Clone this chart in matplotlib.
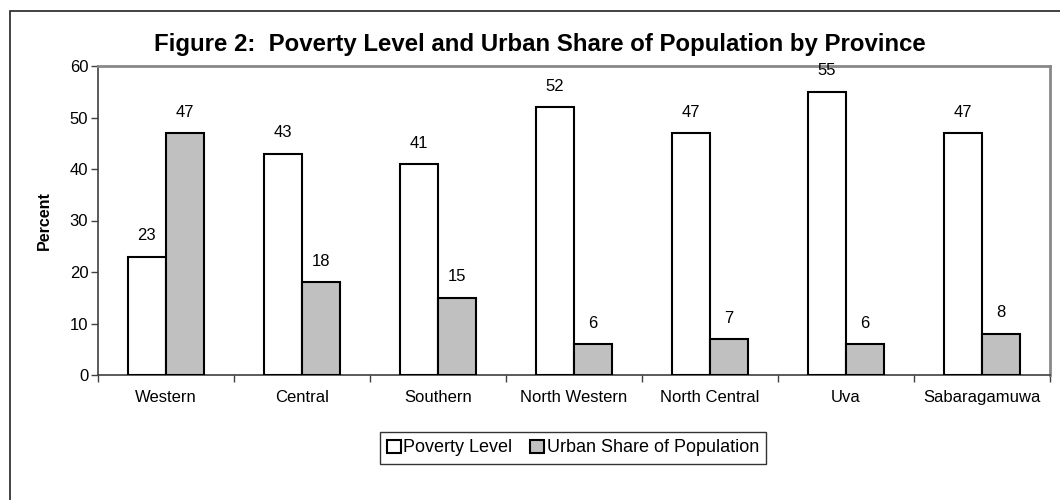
import matplotlib
matplotlib.use("Agg")
import matplotlib.pyplot as plt
from matplotlib.patches import Rectangle
import numpy as np

plt.rcParams['font.family'] = ['Liberation Sans', 'DejaVu Sans']

provinces = ["Western", "Central", "Southern", "North Western", "North Central", "Uva", "Sabaragamuwa"]
poverty = [23, 43, 41, 52, 47, 55, 47]
urban = [47, 18, 15, 6, 7, 6, 8]
series_names = ["Poverty Level", "Urban Share of Population"]
title = "Figure 2:  Poverty Level and Urban Share of Population by Province"

fig = plt.figure(figsize=(10.6, 5), dpi=100)
W, H = 1060, 500
ax = fig.add_axes([98 / W, 1 - 375 / H, (1050 - 98) / W, (375 - 66) / H])

# outer frame
fig.patches.append(Rectangle((10 / W, -0.1), 1.2, 1 - 11 / H + 0.1, transform=fig.transFigure,
                             fill=False, edgecolor="#222222", linewidth=1.2, zorder=0))

x = np.arange(len(provinces))
bw = 0.283
b1 = ax.bar(x - bw / 2, poverty, bw, color="white", edgecolor="black", linewidth=1.5,
            label=series_names[0], zorder=3)
b2 = ax.bar(x + bw / 2, urban, bw, color="#c0c0c0", edgecolor="black", linewidth=1.5,
            label=series_names[1], zorder=3)

for bars, vals in ((b1, poverty), (b2, urban)):
    for rect, v in zip(bars, vals):
        ax.annotate(f"{v}", (rect.get_x() + rect.get_width() / 2, v), xytext=(0, 15),
                    textcoords="offset points", ha="center", va="center", fontsize=12)

ax.set_xlim(-0.5, len(provinces) - 0.5)
ax.set_ylim(0, 60)
ax.set_yticks(range(0, 61, 10))
ax.tick_params(axis="y", labelsize=12, length=5, width=1, color="#404040", direction="out", pad=2)
ax.set_xticks(x)
ax.set_xticklabels(provinces, fontsize=12)
ax.tick_params(axis="x", length=0, pad=11)
ax.set_xticks(np.arange(-0.5, len(provinces), 1), minor=True)
ax.tick_params(axis="x", which="minor", length=5, width=1, color="#404040", direction="out")

for s in ("left", "bottom"):
    ax.spines[s].set_color("#404040")
    ax.spines[s].set_linewidth(1.2)
for s in ("top", "right"):
    ax.spines[s].set_color("#888888")
    ax.spines[s].set_linewidth(2)

ax.set_ylabel("Percent", fontsize=11.5, fontweight="bold", labelpad=13)

fig.text(540 / W, 1 - 44 / H, title, ha="center", va="center", fontsize=17.3, fontweight="bold")

leg = fig.legend(handles=[b1, b2], labels=series_names, loc="center", bbox_to_anchor=(573 / W, 1 - 448 / H),
                 ncol=2, frameon=True, fancybox=False, fontsize=13, handlelength=0.75, handleheight=0.75,
                 handletextpad=0.15, columnspacing=1.0, borderpad=0.4, borderaxespad=0, edgecolor="black")
leg.get_frame().set_linewidth(1)

fig.savefig("out.png", dpi=100)
